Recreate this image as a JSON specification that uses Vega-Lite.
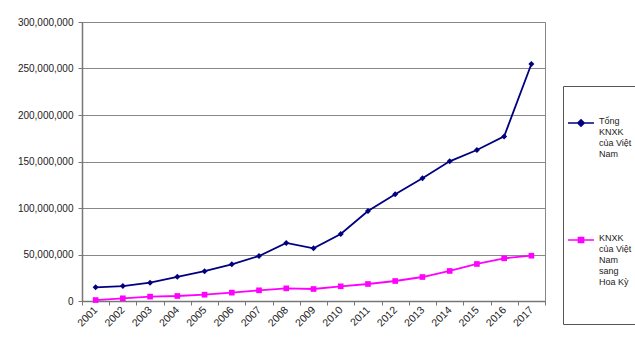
{
  "$schema": "https://vega.github.io/schema/vega-lite/v6.json",
  "autosize": "none",
  "width": 463,
  "height": 279,
  "padding": {"left": 82, "top": 22, "right": 90, "bottom": 52},
  "background": "white",
  "config": {
    "view": {"stroke": "#888888", "strokeWidth": 1},
    "font": "Liberation Sans",
    "axis": {"labelFont": "Liberation Sans", "labelFontSize": 10, "labelColor": "#222222", "domainColor": "#777777", "tickColor": "#777777", "gridColor": "#888888", "gridOpacity": 1, "domainWidth": 1.5}
  },
  "data": {
    "values": [
      {"year": "2001", "series": "Tổng KNXK của Việt Nam", "value": 14700000},
      {"year": "2002", "series": "Tổng KNXK của Việt Nam", "value": 16000000},
      {"year": "2003", "series": "Tổng KNXK của Việt Nam", "value": 19700000},
      {"year": "2004", "series": "Tổng KNXK của Việt Nam", "value": 26000000},
      {"year": "2005", "series": "Tổng KNXK của Việt Nam", "value": 32000000},
      {"year": "2006", "series": "Tổng KNXK của Việt Nam", "value": 39500000},
      {"year": "2007", "series": "Tổng KNXK của Việt Nam", "value": 48400000},
      {"year": "2008", "series": "Tổng KNXK của Việt Nam", "value": 62400000},
      {"year": "2009", "series": "Tổng KNXK của Việt Nam", "value": 56700000},
      {"year": "2010", "series": "Tổng KNXK của Việt Nam", "value": 72000000},
      {"year": "2011", "series": "Tổng KNXK của Việt Nam", "value": 96800000},
      {"year": "2012", "series": "Tổng KNXK của Việt Nam", "value": 114700000},
      {"year": "2013", "series": "Tổng KNXK của Việt Nam", "value": 132000000},
      {"year": "2014", "series": "Tổng KNXK của Việt Nam", "value": 150200000},
      {"year": "2015", "series": "Tổng KNXK của Việt Nam", "value": 162400000},
      {"year": "2016", "series": "Tổng KNXK của Việt Nam", "value": 177000000},
      {"year": "2017", "series": "Tổng KNXK của Việt Nam", "value": 254800000},
      {"year": "2001", "series": "KNXK của Việt Nam sang Hoa Kỳ", "value": 1000000},
      {"year": "2002", "series": "KNXK của Việt Nam sang Hoa Kỳ", "value": 2900000},
      {"year": "2003", "series": "KNXK của Việt Nam sang Hoa Kỳ", "value": 4700000},
      {"year": "2004", "series": "KNXK của Việt Nam sang Hoa Kỳ", "value": 5400000},
      {"year": "2005", "series": "KNXK của Việt Nam sang Hoa Kỳ", "value": 6800000},
      {"year": "2006", "series": "KNXK của Việt Nam sang Hoa Kỳ", "value": 9000000},
      {"year": "2007", "series": "KNXK của Việt Nam sang Hoa Kỳ", "value": 11500000},
      {"year": "2008", "series": "KNXK của Việt Nam sang Hoa Kỳ", "value": 13600000},
      {"year": "2009", "series": "KNXK của Việt Nam sang Hoa Kỳ", "value": 12900000},
      {"year": "2010", "series": "KNXK của Việt Nam sang Hoa Kỳ", "value": 15800000},
      {"year": "2011", "series": "KNXK của Việt Nam sang Hoa Kỳ", "value": 18300000},
      {"year": "2012", "series": "KNXK của Việt Nam sang Hoa Kỳ", "value": 21500000},
      {"year": "2013", "series": "KNXK của Việt Nam sang Hoa Kỳ", "value": 25800000},
      {"year": "2014", "series": "KNXK của Việt Nam sang Hoa Kỳ", "value": 32300000},
      {"year": "2015", "series": "KNXK của Việt Nam sang Hoa Kỳ", "value": 39800000},
      {"year": "2016", "series": "KNXK của Việt Nam sang Hoa Kỳ", "value": 45900000},
      {"year": "2017", "series": "KNXK của Việt Nam sang Hoa Kỳ", "value": 48700000}
    ]
  },
  "encoding": {
    "x": {
      "field": "year", "type": "ordinal",
      "scale": {"paddingInner": 0, "paddingOuter": 0},
      "axis": {"title": null, "labelAngle": -45, "labelAlign": "right", "labelBaseline": "middle", "tickBand": "extent", "tickSize": 4, "labelPadding": 3, "labelFontSize": 10.5, "domainColor": "#777777"}
    },
    "y": {
      "field": "value", "type": "quantitative",
      "scale": {"domain": [0, 300000000], "nice": false},
      "axis": {"title": null, "values": [0, 50000000, 100000000, 150000000, 200000000, 250000000, 300000000], "format": ",d", "tickSize": 4, "labelPadding": 5, "grid": true, "gridWidth": 1.2}
    },
    "color": {
      "field": "series", "type": "nominal",
      "scale": {"domain": ["Tổng KNXK của Việt Nam", "KNXK của Việt Nam sang Hoa Kỳ"], "range": ["#000080", "#FF00FF"]},
      "legend": {
        "title": " ",
        "titleFontSize": 10,
        "titlePadding": 9,
        "orient": "none",
        "legendX": 481,
        "legendY": 64,
        "direction": "vertical",
        "strokeColor": "#555555",
        "padding": 4,
        "labelFont": "Liberation Sans",
        "labelFontSize": 9,
        "labelLineHeight": 12,
        "labelColor": "#222222",
        "labelLimit": 200,
        "labelOffset": 4,
        "labelBaseline": "top",
        "rowPadding": 67,
        "symbolSize": 676,
        "symbolStrokeWidth": 1.5,
        "labelExpr": "datum.value === 'Tổng KNXK của Việt Nam' ? ['Tổng', 'KNXK', 'của Việt', 'Nam'] : ['KNXK', 'của Việt', 'Nam', 'sang', 'Hoa Kỳ', '', '', '']",
        "encode": {
          "labels": {"update": {"dy": {"value": -6}}},
          "symbols": {
            "update": {
              "shape": {"signal": "datum.value === 'Tổng KNXK của Việt Nam' ? 'M-1,0H1M0,-0.25L0.25,0L0,0.25L-0.25,0Z' : 'M-1,0H1M-0.2,-0.2H0.2V0.2H-0.2Z'"},
              "fill": {"signal": "datum.value === 'Tổng KNXK của Việt Nam' ? '#000080' : '#FF00FF'"},
              "stroke": {"signal": "datum.value === 'Tổng KNXK của Việt Nam' ? '#000080' : '#FF00FF'"}
            }
          }
        }
      }
    }
  },
  "layer": [
    {"mark": {"type": "line", "strokeWidth": 1.8}},
    {
      "transform": [{"filter": "datum.series === 'Tổng KNXK của Việt Nam'"}],
      "mark": {"type": "point", "shape": "diamond", "filled": true, "opacity": 1, "size": 36}
    },
    {
      "transform": [{"filter": "datum.series === 'KNXK của Việt Nam sang Hoa Kỳ'"}],
      "mark": {"type": "point", "shape": "square", "filled": true, "opacity": 1, "size": 32}
    }
  ]
}
